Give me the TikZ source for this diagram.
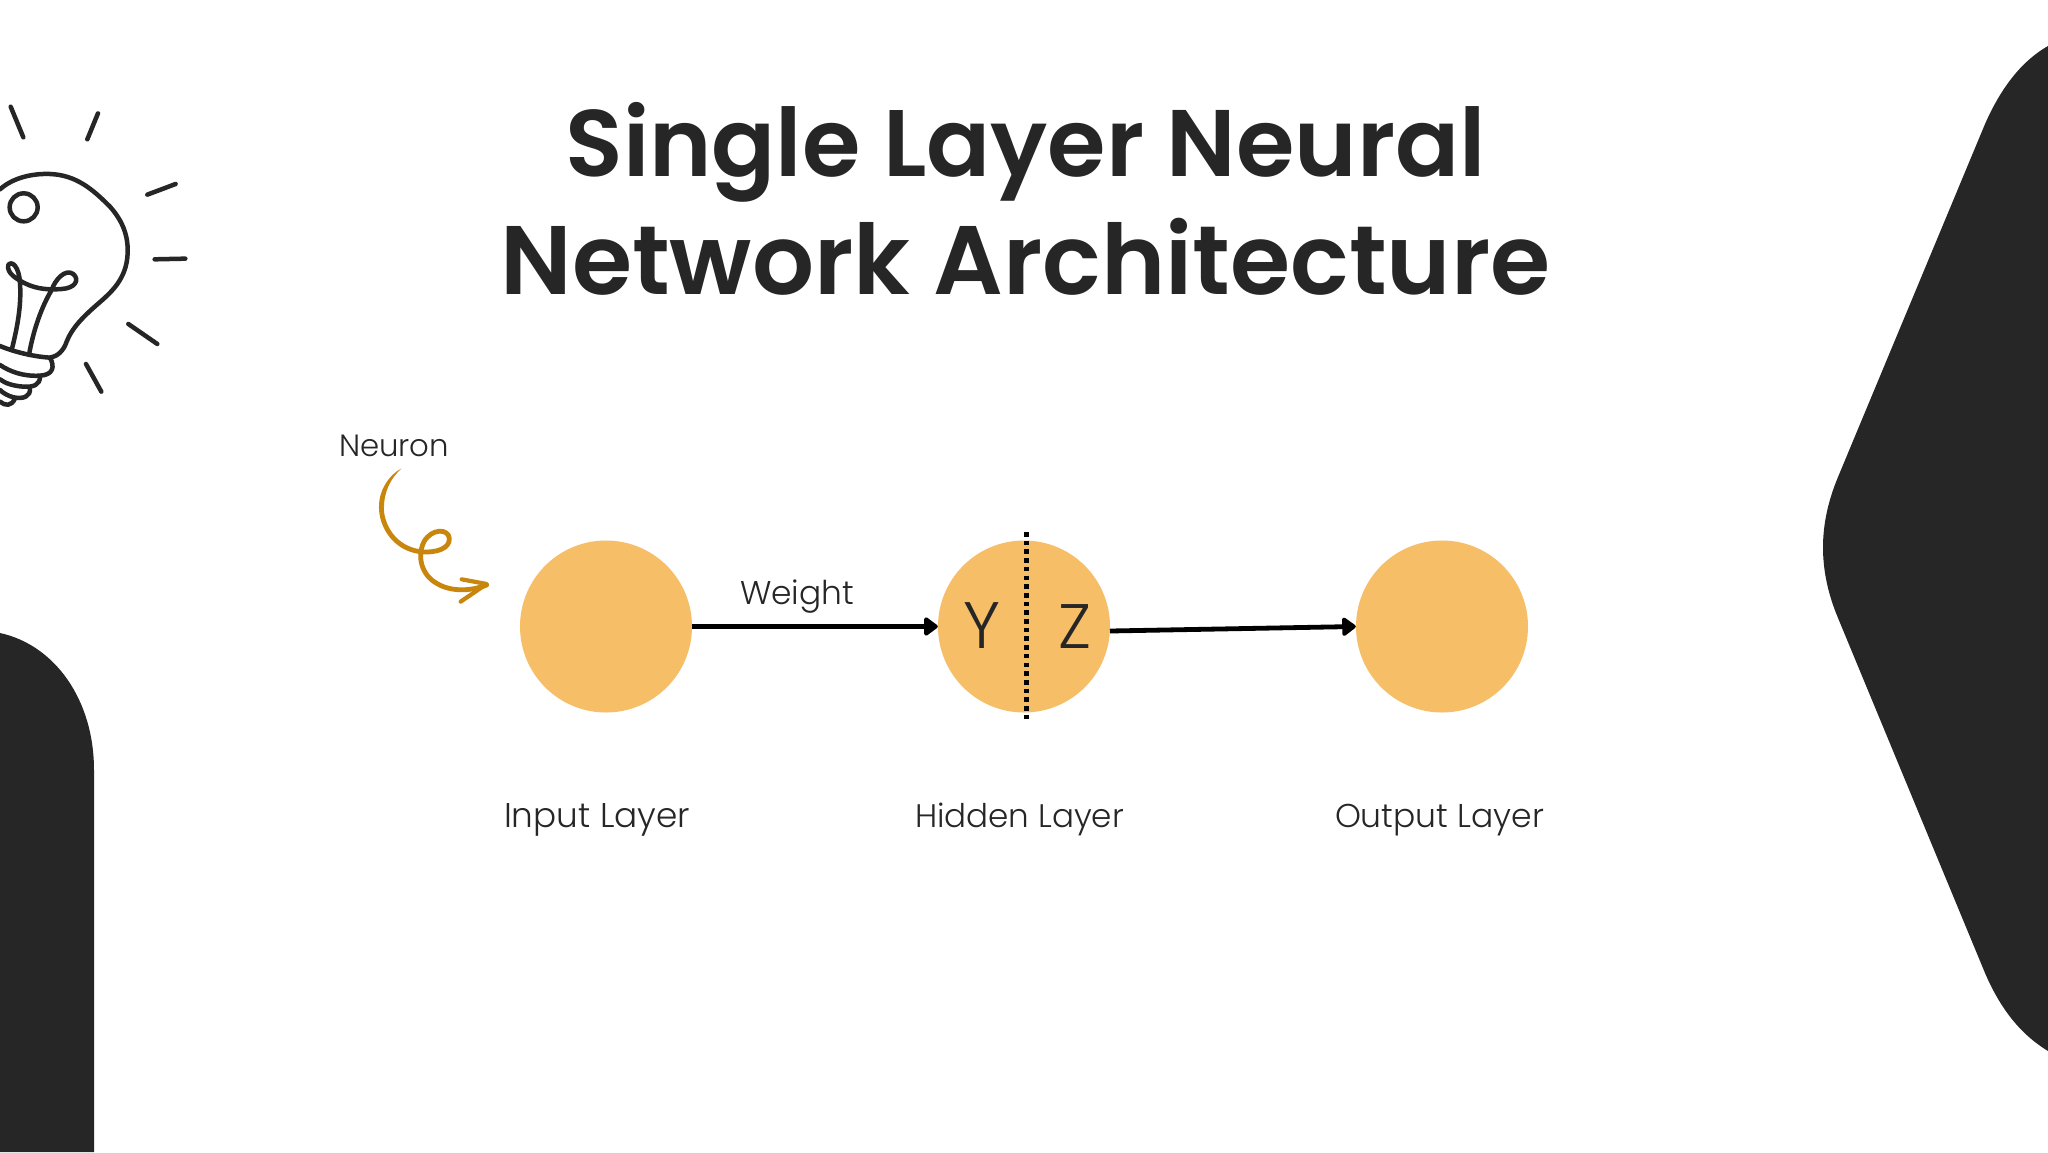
\documentclass[tikz,border=0pt]{standalone}
\usepackage{fontspec}
\usepackage{graphicx}
\setmainfont{Poppins}
\newfontfamily\titlefont{Poppins SemiBold}
\newfontfamily\thinfont{Poppins Light}
\usetikzlibrary{arrows.meta}
\definecolor{ink}{HTML}{272626}
\definecolor{bulbfill}{HTML}{F7BE68}
\definecolor{curl}{HTML}{C8860D}
\tikzset{
  neuron/.style={circle,fill=bulbfill,minimum size=172pt,inner sep=0pt},
  link/.style={line width=4.8pt,black,-{Triangle[length=15pt,width=21pt,round]}},
  lbl/.style={anchor=base west,inner sep=0pt,outer sep=0pt,text=ink},
  bulbline/.style={line width=4.5pt,ink,line cap=round,line join=round},
}
\newcommand{\fit}[2]{\resizebox{#1pt}{!}{#2}}
\begin{document}
\begin{tikzpicture}[x=1pt,y=-1pt]
\useasboundingbox (0,0) rectangle (2048,1152);
\fill[white] (0,0) rectangle (2048,1152);
% side shapes
\fill[ink] (2048,46) .. controls (2020,62) and (2000,90) .. (1985,124) -- (1838,477)
  .. controls (1818,525) and (1818,570) .. (1838,618) -- (1985,973)
  .. controls (2000,1008) and (2020,1034) .. (2048,1051) -- cycle;
\fill[ink] (0,633) .. controls (55,645) and (94,700) .. (94,770) -- (94,1152) -- (0,1152) -- cycle;
% title
\node[lbl,font=\titlefont] (t1) at (565.5,176) {\fit{920}{Single Layer Neural}};
\node[lbl,font=\titlefont] (t2) at (500.5,294) {\fit{1049}{Network Architecture}};
% neurons
\node[neuron] (a) at (606,626.5) {};
\node[neuron] (b) at (1024,626.5) {};
\node[neuron] (c) at (1442,626.5) {};
\coordinate (bl) at (1110,631);
\coordinate (dt) at (1026,532);
\coordinate (db) at (1026,722);
\draw[link] (a.east) -- (b.west);
\draw[link] (bl) -- (c.west);
\draw[line width=5pt,black,dash pattern=on 4.6pt off 4.1pt] (dt) -- (db);
\node[lbl,font=\thinfont] (y) at (963,648) {\fit{37}{Y}};
\node[lbl,font=\thinfont] (z) at (1058,648) {\fit{33}{Z}};
% labels
\node[lbl,font=\thinfont] (nl) at (339,456) {\fit{110}{Neuron}};
\node[lbl,font=\thinfont] (wl) at (740,604) {\fit{114}{Weight}};
\node[lbl,font=\thinfont] (il) at (504,827) {\fit{186}{Input Layer}};
\node[lbl,font=\thinfont] (hl) at (915,827) {\fit{209}{Hidden Layer}};
\node[lbl,font=\thinfont] (ol) at (1335,827) {\fit{209}{Output Layer}};
% curl
\begin{scope}[shift={(320,410)},x=0.3333pt,y=-0.3333pt]
\fill[curl] (245,175) .. controls (205,195) and (176,245) .. (177,290) -- (192,290) .. controls (192,250) and (210,205) .. (245,175) -- cycle;
\draw[curl,line width=4.8pt,line cap=round,line join=round]
  (184,290) .. controls (184,350) and (225,415) .. (300,425)
  .. controls (350,430) and (390,415) .. (388,385)
  .. controls (385,355) and (335,355) .. (312,395)
  .. controls (290,440) and (305,495) .. (350,520)
  .. controls (390,545) and (450,545) .. (500,525);
\draw[curl,line width=4.2pt,line cap=round,line join=round] (425,508) -- (500,522) -- (422,575);
\end{scope}
% bulb
\begin{scope}[shift={(0,90)},x=0.3333pt,y=-0.3333pt]
\draw[bulbline] (32,50) -- (70,142);
\draw[bulbline] (294,70) -- (262,148);
\draw[bulbline] (442,314) -- (527,282);
\draw[bulbline] (464,508) -- (556,506);
\draw[bulbline] (385,702) -- (472,762);
\draw[bulbline] (258,822) -- (304,905);
\draw[bulbline] (71,352) circle[radius=42];
\draw[bulbline] (0,298) .. controls (40,262) and (100,250) .. (150,252)
  .. controls (230,255) and (280,300) .. (330,350)
  .. controls (370,395) and (385,440) .. (383,490)
  .. controls (380,570) and (330,610) .. (290,645)
  .. controls (250,680) and (215,715) .. (200,755)
  .. controls (190,785) and (170,800) .. (150,803)
  .. controls (100,800) and (40,785) .. (0,768);
\draw[bulbline] (35,780) .. controls (50,720) and (65,650) .. (60,580)
  .. controls (58,530) and (35,510) .. (25,525)
  .. controls (18,550) and (55,570) .. (75,580)
  .. controls (110,598) and (150,600) .. (185,597)
  .. controls (225,595) and (240,570) .. (220,552)
  .. controls (195,535) and (165,570) .. (155,600)
  .. controls (125,650) and (100,720) .. (87,795);
\draw[bulbline] (150,803) .. controls (165,830) and (160,855) .. (120,857)
  .. controls (70,860) and (30,845) .. (0,825);
\draw[bulbline] (120,860) .. controls (120,885) and (100,892) .. (70,890)
  .. controls (40,888) and (15,880) .. (0,868);
\draw[bulbline] (90,895) .. controls (92,920) and (70,928) .. (40,922)
  .. controls (25,918) and (10,910) .. (0,900);
\draw[bulbline] (45,925) .. controls (35,950) and (15,948) .. (0,935);
\end{scope}
\end{tikzpicture}
\end{document}
